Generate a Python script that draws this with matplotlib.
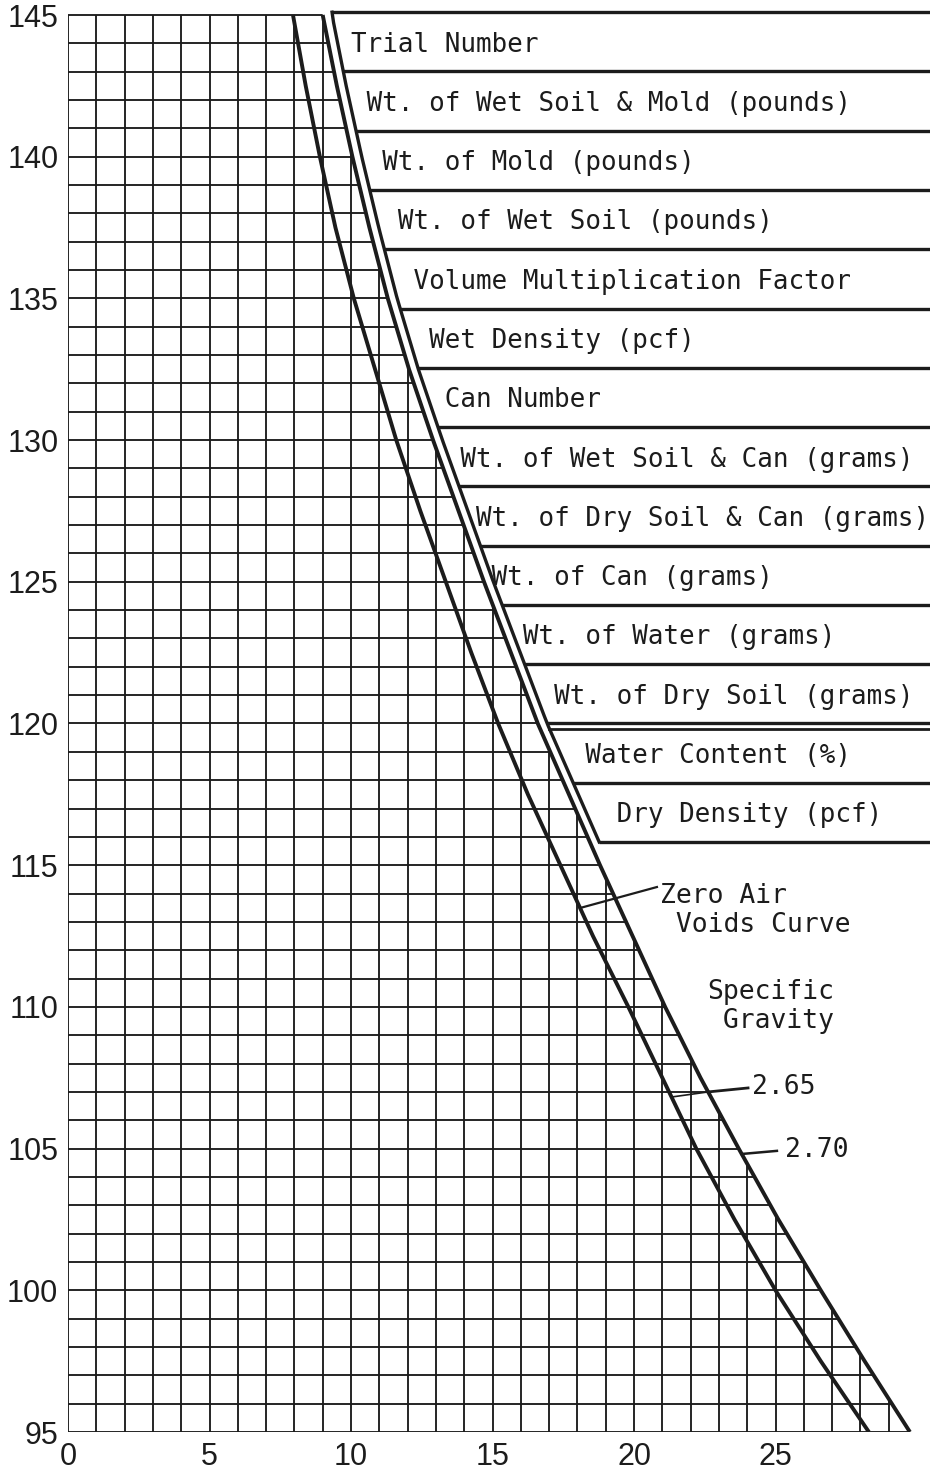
import numpy as np
import matplotlib.pyplot as plt
from matplotlib.patches import Polygon

# Zero air voids curves: dry density (pcf) vs water content (%)
density = [145, 142.5, 140, 137.5, 135, 132.5, 130, 127.5, 125, 122.5, 120,
           117.5, 115, 112.5, 110, 107.5, 105, 102.5, 100, 97.5, 95]
water_265 = [7.95, 8.4, 8.9, 9.45, 10.1, 10.85, 11.6, 12.45, 13.35, 14.25, 15.2,
             16.25, 17.4, 18.55, 19.8, 21.0, 22.2, 23.55, 25.0, 26.6, 28.3]
water_270 = [9.0, 9.5, 10.05, 10.65, 11.3, 12.05, 12.9, 13.8, 14.7, 15.65, 16.6,
             17.7, 18.8, 19.95, 21.1, 22.35, 23.7, 25.1, 26.6, 28.15, 29.75]

x_ticks = [0, 5, 10, 15, 20, 25]
y_ticks = [95, 100, 105, 110, 115, 120, 125, 130, 135, 140, 145]

# data sheet rows, with the typewriter indent (in characters) of each line
row_labels = [
    "Trial Number",
    "Wt. of Wet Soil & Mold (pounds)",
    "Wt. of Mold (pounds)",
    "Wt. of Wet Soil (pounds)",
    "Volume Multiplication Factor",
    "Wet Density (pcf)",
    "Can Number",
    "Wt. of Wet Soil & Can (grams)",
    "Wt. of Dry Soil & Can (grams)",
    "Wt. of Can (grams)",
    "Wt. of Water (grams)",
    "Wt. of Dry Soil (grams)",
    "Water Content (%)",
    "Dry Density (pcf)",
]
row_indent = [0, 1, 2, 3, 4, 5, 6, 7, 8, 9, 11, 13, 15, 17]

INK = "#1c1c1c"
MONO = "DejaVu Sans Mono"
NARROW = ["Liberation Sans Narrow", "Liberation Sans"]


def curve_x(water, y):
    # water content on a curve at a given dry density
    return np.interp(y, density[::-1], water[::-1])


fig = plt.figure(figsize=(9.3, 14.7), dpi=100)
ax = fig.add_axes([68 / 930, 38 / 1470, 862 / 930, 1431 / 1470])
ax.set_xlim(0, 862 / 28.3)
ax.set_ylim(95, 95 + 1431 / 28.34)
for s in ax.spines.values():
    s.set_visible(False)

# grid only left of the 2.70 curve
verts = [(-0.1, 94.85), (-0.1, 145.1), (water_270[0], 145.1)]
verts += list(zip(water_270, density))
verts += [(water_270[-1], 94.85)]
clip = Polygon(verts, closed=True, facecolor="none", edgecolor="none",
               transform=ax.transData)
ax.add_patch(clip)

vl = ax.vlines(np.arange(0, 31), 95, 145, color=INK, lw=1.35)
hl = ax.hlines(np.arange(95, 146), 0, 31, color=INK, lw=1.35)
vl.set_clip_path(clip)
hl.set_clip_path(clip)

ax.plot(water_265, density, color=INK, lw=2.8, solid_capstyle="butt")
ax.plot(water_270, density, color=INK, lw=2.8, solid_capstyle="butt")

# data sheet box, its left edge follows the 2.70 curve
top, bottom = 145.1, 115.82
edges = np.linspace(top, bottom, len(row_labels) + 1)
x_right = ax.get_xlim()[1] + 0.5


def edge_x(y):
    return curve_x(water_270, y) + 0.33


ys = np.linspace(bottom, top, 80)
ax.plot(edge_x(ys), ys, color=INK, lw=2.4)
for y in edges:
    ax.plot([edge_x(y), x_right], [y, y], color=INK, lw=2.4,
            solid_capstyle="butt")
ax.plot([edge_x(edges[12] - 0.18), x_right], [edges[12] - 0.18] * 2,
        color=INK, lw=2.0)

for i, label in enumerate(row_labels):
    y_c = (edges[i] + edges[i + 1]) / 2 - 0.1
    ax.text(10.0, y_c, " " * row_indent[i] + label, family=MONO,
            fontsize=18.6, color=INK, va="center", ha="left", clip_on=True)

# curve labels and leaders
y_zav = 113.49
ax.plot([20.81, curve_x(water_265, y_zav)], [114.23, y_zav], color=INK, lw=1.6)
ax.text(20.92, 113.40, "Zero Air\n Voids Curve", family=MONO, fontsize=19,
        color=INK, va="center", ha="left", linespacing=1.15)
ax.text(22.58, 110.0, "Specific\n Gravity", family=MONO, fontsize=19,
        color=INK, va="center", ha="left", linespacing=1.15)

y_65 = 106.82
x_cross = curve_x(water_270, 107.0)
ax.plot([24.03, x_cross], [107.14, 107.0], color=INK, lw=2.0)
ax.plot([x_cross, curve_x(water_265, y_65)], [107.0, y_65], color=INK, lw=1.2)
ax.text(24.17, 107.17, "2.65", family=MONO, fontsize=19, color=INK,
        va="center", ha="left")

y_70 = 104.81
ax.plot([25.05, curve_x(water_270, y_70)], [104.92, y_70], color=INK, lw=1.8)
ax.text(25.34, 104.95, "2.70", family=MONO, fontsize=19, color=INK,
        va="center", ha="left")

ax.set_xticks(x_ticks)
ax.set_yticks(y_ticks)
ax.tick_params(length=0, pad=7, labelsize=22, colors=INK)
for lab in ax.get_xticklabels() + ax.get_yticklabels():
    lab.set_family(NARROW)

fig.savefig("out.png", dpi=100, facecolor="white")
